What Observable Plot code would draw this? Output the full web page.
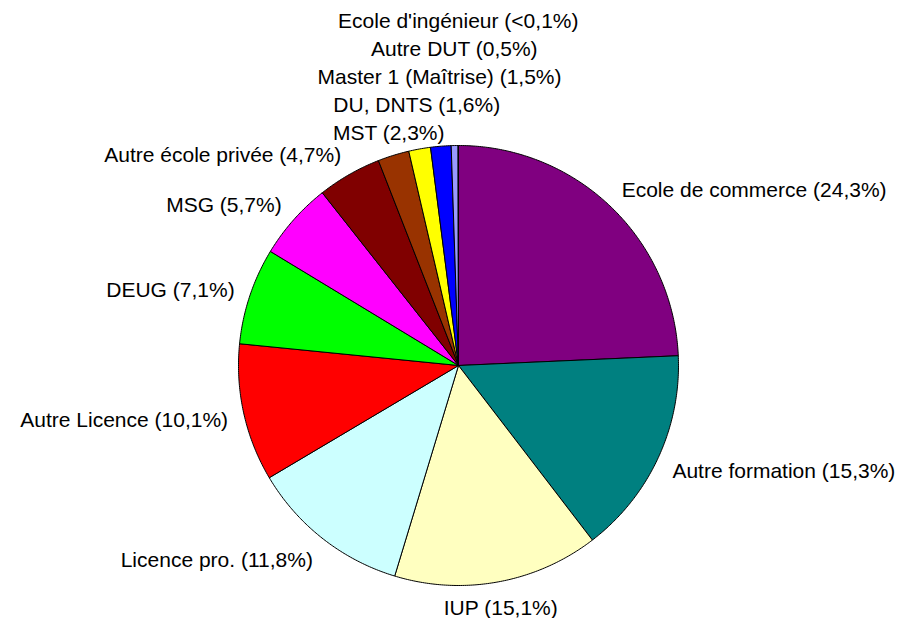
<!DOCTYPE html>
<html><head><meta charset="utf-8">
<script src="https://cdn.jsdelivr.net/npm/d3@7"></script>
<script src="https://cdn.jsdelivr.net/npm/@observablehq/plot@0.6"></script>
<style>body{margin:0;background:#fff;} #chart svg{display:block;}</style>
</head><body><div id="chart"></div>
<script>
// ---- data ----
const names = ["Ecole de commerce", "Autre formation", "IUP", "Licence pro.", "Autre Licence", "DEUG", "MSG",
  "Autre école privée", "MST", "DU, DNTS", "Master 1 (Maîtrise)", "Autre DUT", "Ecole d'ingénieur"];
const values = [24.3, 15.3, 15.1, 11.8, 10.1, 7.1, 5.7, 4.7, 2.3, 1.6, 1.5, 0.5, 0.03];
const pctText = ["24,3%", "15,3%", "15,1%", "11,8%", "10,1%", "7,1%", "5,7%", "4,7%", "2,3%", "1,6%", "1,5%", "0,5%", "<0,1%"];
const colors = ["#800080", "#008080", "#FFFFC0", "#CCFFFF", "#FF0000", "#00FF00", "#FF00FF",
  "#800000", "#993300", "#FFFF00", "#0000FF", "#9999FF", "#993366"];

// ---- layout ----
const W = 901, H = 618, cx = 458, cy = 365, R = 220;
const labelR = 236 / R, vShift = 9 / R, down = 2 / R, step = 28 / R, fontSize = 21;

const arcs = d3.pie().sort(null).value(d => d)(values);

const points = [];
arcs.forEach((a, i) => {
  const n = Math.max(2, Math.ceil((a.endAngle - a.startAngle) / (Math.PI / 360)));
  points.push({name: names[i], x: 0, y: 0});
  for (let k = 0; k <= n; k++) {
    const t = a.startAngle + (a.endAngle - a.startAngle) * k / n;
    points.push({name: names[i], x: Math.sin(t), y: Math.cos(t)});
  }
  points.push({name: names[i], x: 0, y: 0});
});

const labels = arcs.map((a, i) => {
  const m = (a.startAngle + a.endAngle) / 2;
  const s = Math.sin(m), c = Math.cos(m);
  const anchor = Math.abs(s) < 0.35 ? "middle" : (s > 0 ? "start" : "end");
  return {label: `${names[i]} (${pctText[i]})`, lx: labelR * s, ly: labelR * c + c * vShift - down, anchor, top: c > 0};
});
for (let i = 1; i < labels.length; i++) {
  const p = labels[i - 1], l = labels[i];
  if (l.anchor === "middle" && p.anchor === "middle" && l.top && p.top) l.ly = Math.max(l.ly, p.ly + step);
}

const textOpts = a => ({x: "lx", y: "ly", text: "label", textAnchor: a, lineAnchor: "middle",
  fontSize, fontFamily: "Liberation Sans, Arial, sans-serif", fill: "#000"});

const chart = Plot.plot({
  width: W, height: H, margin: 0,
  x: {domain: [-cx / R, (W - cx) / R], range: [0, W], axis: null},
  y: {domain: [-(H - cy) / R, cy / R], range: [H, 0], axis: null},
  color: {domain: names, range: colors},
  marks: [
    Plot.line(points, {x: "x", y: "y", z: "name", fill: "name", stroke: "#000", strokeWidth: 1, curve: "linear"}),
    ...["start", "middle", "end"].map(a => Plot.text(labels.filter(d => d.anchor === a), textOpts(a)))
  ]
});
document.getElementById("chart").appendChild(chart);
</script>
</body></html>
